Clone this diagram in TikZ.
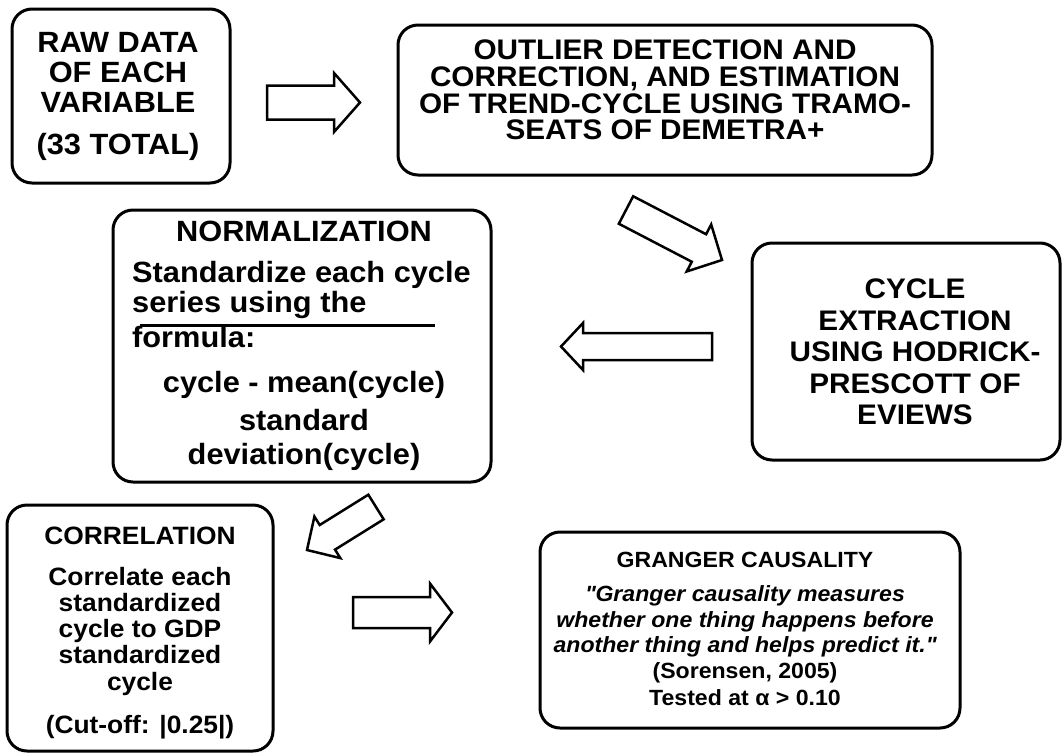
\documentclass[tikz,border=0pt]{standalone}
\usepackage{fontspec}
\setmainfont{Liberation Sans}[FakeStretch=1.05]
\usepackage{tikz}
\usetikzlibrary{calc}

\newcommand{\fsz}[2]{\fontsize{#1}{#2}\selectfont\bfseries}
% hollow block arrow: tail, tip, shaft half width, head half width, head length
\newcommand{\hollowarrow}[5]{%
  \coordinate (hb) at ($(#2)!#5!(#1)$);
  \draw [hollow] ($(#1)!#3!90:(#2)$) -- ($(hb)!#3!-90:(#1)$) -- ($(hb)!#4!-90:(#1)$)
    -- (#2) -- ($(hb)!#4!90:(#1)$) -- ($(hb)!#3!90:(#1)$) -- ($(#1)!#3!-90:(#2)$) -- cycle;}

\begin{document}
\begin{tikzpicture}
[x=1pt, y=-1pt,
stage/.style={draw, line width=3pt, rounded corners=20pt, inner sep=0pt},
text-a/.style={inner sep=0pt, anchor=north, align=center},
hollow/.style={draw, fill=white, line width=2.5pt},]
%\draw [dotted, step=50] (0,0) grid (1063,753);
\useasboundingbox (0,0) rectangle (1063,753);

% boxes
\node (raw)     [stage, minimum width=218pt, minimum height=174pt] at (121,96) {};
\node (trend)   [stage, minimum width=534pt, minimum height=150pt] at (665,100) {};
\node (hp)      [stage, minimum width=308pt, minimum height=217pt] at (906,351.5) {};
\node (norm)    [stage, minimum width=378pt, minimum height=272pt] at (302,346) {};
\node (corr)    [stage, minimum width=266pt, minimum height=246pt] at (140,628) {};
\node (granger) [stage, minimum width=420pt, minimum height=196pt] at (750,630) {};

% box texts
\node (raw-text) [text-a, font=\fsz{29.3}{30}] at (118,32)
  {RAW DATA\\OF EACH\\VARIABLE\\[12pt](33 TOTAL)};
\node (trend-text) [text-a, font=\fsz{28.3}{26.7}] at (665,39.7)
  {OUTLIER DETECTION AND\\CORRECTION, AND ESTIMATION\\OF TREND-CYCLE USING TRAMO-\\SEATS OF DEMETRA+};
\node (hp-text) [text-a, font=\fsz{28.3}{31.5}] at (915,278.7)
  {CYCLE\\EXTRACTION\\USING HODRICK-\\PRESCOTT OF\\EVIEWS};
\node (norm-title) [text-a, font=\fsz{29.3}{30}] at (304,221) {NORMALIZATION};
\node (norm-text) [text-a, anchor=north west, align=left, font=\fsz{29.3}{30}] at (132,261)
  {Standardize each cycle\\series using the\\[5pt]formula:};
\node (norm-formula) [text-a, font=\fsz{29.3}{34}] at (304,370.7)
  {cycle - mean(cycle)\\[4pt]standard\\deviation(cycle)};
\draw [line width=3pt] (140,325) -- (435,325);
\node (corr-text) [text-a, font=\fsz{25.1}{26.3}] at (140,527)
  {CORRELATION\\[14pt]Correlate each\\standardized\\cycle to GDP\\standardized\\cycle\\[17pt](Cut-off: |0.25|)};
\node (granger-text) [text-a, font=\fsz{22}{25.5}] at (745,552)
  {GRANGER CAUSALITY\\[8.5pt]\textit{\textquotedbl Granger causality measures}\\\textit{whether one thing happens before}\\\textit{another thing and helps predict it.\textquotedbl}\\(Sorensen, 2005)\\[2pt]Tested at α > 0.10};

% arrows between the steps
\coordinate (raw-out)    at (267,102.5);
\coordinate (trend-in)   at (360,102.5);
\coordinate (trend-out)  at (626,210);
\coordinate (hp-in)      at (722,260);
\coordinate (hp-out)     at (712,346.5);
\coordinate (norm-in)    at (561,346.5);
\coordinate (norm-out)   at (376,507);
\coordinate (corr-in)    at (307,550);
\coordinate (corr-out)   at (353,612.5);
\coordinate (granger-in) at (452,612.5);
\hollowarrow{raw-out}{trend-in}{17pt}{29.5pt}{26pt}
\hollowarrow{trend-out}{hp-in}{15.5pt}{26.5pt}{26pt}
\hollowarrow{hp-out}{norm-in}{13.5pt}{23.5pt}{22pt}
\hollowarrow{norm-out}{corr-in}{14.5pt}{24.5pt}{24pt}
\hollowarrow{corr-out}{granger-in}{15.5pt}{29pt}{22pt}
\end{tikzpicture}
\end{document}
